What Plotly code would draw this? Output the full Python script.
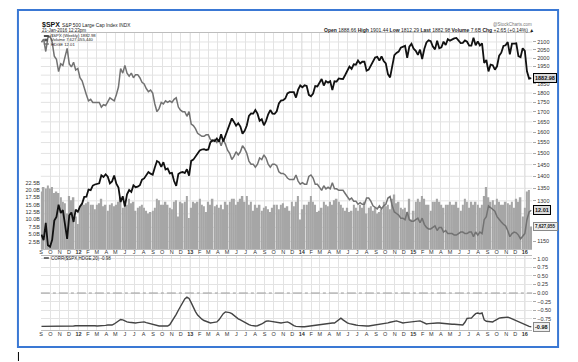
import plotly.graph_objects as go
import pandas as pd
import math

W, H = 578, 362

# ---------------- data ----------------
week_dates = pd.date_range("2011-09-02", "2016-01-22", freq="W-FRI")

spx_close = [
    # 2011
    1173.97, 1154.23, 1216.01, 1136.43, 1131.42, 1155.46, 1224.58, 1238.25, 1285.09, 1253.23,
    1263.85, 1215.65, 1158.67, 1244.28, 1255.19, 1219.66, 1265.33, 1257.60,
    # 2012
    1277.81, 1289.09, 1315.38, 1316.33, 1344.90, 1342.64, 1361.23, 1365.74, 1369.63, 1370.87,
    1404.17, 1397.11, 1408.47, 1398.08, 1370.26, 1378.53, 1403.36, 1369.10, 1353.39, 1295.22,
    1317.82, 1278.04, 1325.66, 1342.84, 1335.02, 1362.16, 1354.68, 1356.78, 1362.66, 1385.97,
    1390.99, 1405.87, 1418.16, 1411.13, 1406.58, 1437.92, 1465.77, 1460.15, 1440.67, 1460.93,
    1428.59, 1433.19, 1411.94, 1414.20, 1379.85, 1359.88, 1409.15, 1416.18, 1418.07, 1413.58,
    1430.15, 1402.43,
    # 2013
    1466.47, 1472.05, 1485.98, 1502.96, 1513.17, 1517.93, 1519.79, 1515.60, 1518.20, 1551.18,
    1560.70, 1556.89, 1569.19, 1553.28, 1588.85, 1555.25, 1582.24, 1614.42, 1633.70, 1667.47,
    1649.60, 1630.74, 1643.38, 1626.73, 1592.43, 1606.28, 1631.89, 1680.19, 1692.09, 1691.65,
    1709.67, 1691.42, 1655.83, 1663.50, 1632.97, 1655.17, 1687.99, 1709.91, 1691.75, 1690.50,
    1703.20, 1744.50, 1759.77, 1761.64, 1770.61, 1798.18, 1804.76, 1805.81, 1805.09, 1775.32,
    1818.32, 1841.40,
    # 2014
    1831.37, 1842.37, 1838.70, 1790.29, 1782.59, 1797.02, 1838.63, 1836.25, 1859.45, 1878.04,
    1841.13, 1866.52, 1857.62, 1865.09, 1815.69, 1864.85, 1863.40, 1881.14, 1878.48, 1877.86,
    1900.53, 1923.57, 1949.44, 1936.16, 1962.87, 1960.96, 1985.44, 1967.57, 1978.22, 1978.34,
    1925.15, 1931.59, 1955.06, 1988.40, 2003.37, 2007.71, 1985.54, 2010.40, 1982.85, 1967.90,
    1906.13, 1886.76, 1964.58, 2018.05, 2031.92, 2039.82, 2063.50, 2067.56, 2075.37, 2002.33,
    2070.65, 2088.77,
    # 2015
    2058.20, 2044.81, 2019.42, 2051.82, 1994.99, 2055.47, 2096.99, 2110.30, 2104.50, 2071.26,
    2053.40, 2108.10, 2061.02, 2066.96, 2102.06, 2081.18, 2117.69, 2108.29, 2116.10, 2122.73,
    2126.06, 2107.39, 2092.83, 2094.11, 2109.99, 2101.49, 2076.78, 2076.62, 2126.64, 2079.65,
    2103.84, 2077.57, 2091.54, 1970.89, 1988.87, 1921.22, 1961.05, 1958.03, 1931.34, 1951.36,
    2014.89, 2033.11, 2075.15, 2079.36, 2099.20, 2023.04, 2089.17, 2090.11, 2091.69, 2012.37,
    2005.55, 2060.99,
    # 2016
    2043.94, 1922.03, 1880.33, 1882.98,
]

hdge_close = [
    # 2011
    22.9, 23.1, 22.3, 23.2, 23.3, 22.9, 22.0, 21.8, 21.0, 21.5,
    21.4, 22.0, 22.5, 21.5, 21.3, 21.6, 21.1, 21.2,
    # 2012
    20.6, 20.4, 19.9, 19.5, 19.1, 19.2, 19.0, 19.0, 19.0, 19.0,
    18.7, 18.85, 18.8, 19.1, 19.3, 19.2, 19.1, 19.5, 20.0, 21.2,
    20.9, 21.4, 20.9, 20.7, 20.9, 20.6, 20.8, 20.8, 20.6, 20.3,
    20.2, 19.9, 19.7, 19.8, 19.6, 18.9, 18.4, 18.6, 19.0, 18.9,
    19.1, 19.0, 19.1, 19.0, 19.2, 19.3, 18.7, 18.5, 18.4, 18.4,
    18.1, 18.4,
    # 2013
    17.6, 17.5, 17.3, 17.0, 16.9, 16.8, 16.8, 16.9, 16.9, 16.6,
    16.5, 16.6, 16.4, 16.6, 16.2, 16.6, 16.3, 15.9, 15.7, 15.3,
    15.5, 15.8, 15.6, 15.8, 16.2, 16.0, 15.7, 15.2, 15.0, 15.0,
    14.8, 15.0, 15.4, 15.3, 15.6, 15.4, 15.0, 14.8, 15.0, 15.0,
    14.9, 14.5, 14.4, 14.4, 14.3, 14.1, 14.0, 14.0, 14.0, 14.3,
    13.9, 13.7,
    # 2014
    13.8, 13.7, 13.7, 14.2, 14.3, 14.1, 13.7, 13.7, 13.5, 13.3,
    13.6, 13.4, 13.5, 13.4, 13.8, 13.4, 13.4, 13.3, 13.3, 13.3,
    13.1, 12.9, 12.7, 12.8, 12.6, 12.6, 12.4, 12.5, 12.4, 12.4,
    12.8, 12.8, 12.6, 12.3, 12.2, 12.1, 12.3, 12.1, 12.3, 12.4,
    12.8, 12.9, 12.3, 11.9, 11.8, 11.7, 11.5, 11.5, 11.4, 11.9,
    11.4, 11.3,
    # 2015
    11.3, 11.4, 11.5, 11.2, 11.5, 11.1, 10.9, 10.8, 10.8, 10.9,
    11.0, 10.7, 10.9, 10.9, 10.6, 10.7, 10.5, 10.5, 10.5, 10.4,
    10.4, 10.5, 10.6, 10.6, 10.5, 10.5, 10.6, 10.6, 10.3, 10.6,
    10.4, 10.6, 10.5, 11.4, 11.6, 12.3, 12.2, 12.1, 11.95, 11.6,
    11.4, 11.25, 11.1, 11.0, 10.7, 10.3, 10.5, 10.6, 10.55, 10.4,
    10.15, 10.3,
    # 2016
    10.5, 11.4, 11.9, 12.01,
]

volume_b = [
    # 2011
    19.5, 21.0, 20.5, 21.5, 20.5, 21.0, 19.0, 19.5, 19.0, 17.5,
    16.0, 15.5, 12.0, 18.0, 16.5, 17.5, 11.0, 8.5,
    # 2012
    14.5, 15.5, 15.0, 15.5, 16.0, 15.0, 15.0, 13.5, 15.0, 15.5,
    17.0, 14.5, 15.0, 13.0, 15.0, 15.5, 14.5, 15.0, 16.0, 17.5,
    14.0, 16.0, 15.0, 17.0, 15.5, 16.0, 13.0, 14.0, 14.5, 15.0,
    14.0, 13.0, 12.0, 12.5, 13.0, 14.0, 17.0, 16.5, 15.0, 15.0,
    16.0, 15.0, 14.0, 13.5, 16.0, 16.5, 11.0, 16.0, 15.5, 16.0,
    18.0, 10.5,
    # 2013
    14.0, 16.0, 15.5, 16.0, 17.0, 15.0, 14.5, 12.5, 16.0, 15.0,
    17.0, 14.5, 15.0, 14.0, 15.0, 13.5, 16.0, 15.0, 16.0, 17.0,
    17.0, 15.0, 16.0, 17.0, 18.0, 16.0, 18.0, 15.0, 16.0, 13.0,
    15.0, 14.0, 15.0, 13.0, 14.0, 14.5, 13.5, 12.5, 14.0, 15.0,
    15.0, 13.5, 15.0, 15.5, 14.0, 14.5, 13.0, 16.0, 14.5, 16.0,
    18.0, 10.0,
    # 2014
    13.5, 15.0, 15.0, 16.0, 18.0, 16.0, 15.0, 12.5, 13.0, 14.0,
    16.0, 15.0, 14.5, 16.0, 15.0, 16.5, 17.0, 16.0, 15.0, 14.0,
    13.0, 14.0, 12.5, 13.0, 15.0, 14.0, 13.0, 15.0, 14.0, 16.0,
    12.0, 14.0, 14.5, 13.0, 14.0, 12.0, 12.5, 13.5, 16.0, 14.5,
    15.0, 13.5, 17.0, 18.5, 15.5, 16.0, 14.0, 13.5, 14.0, 12.5,
    17.0, 10.0,
    # 2015
    13.0, 16.0, 17.0, 16.0, 18.0, 17.0, 15.0, 15.0, 13.0, 16.0,
    16.0, 17.0, 16.0, 15.0, 14.0, 15.0, 15.0, 16.0, 15.0, 15.0,
    16.0, 14.0, 13.0, 15.0, 17.0, 16.0, 14.0, 16.0, 15.0, 16.0,
    15.0, 14.0, 15.0, 18.0, 21.0, 17.5, 16.0, 16.5, 15.0, 17.0,
    16.0, 15.0, 15.0, 16.0, 15.5, 15.0, 16.0, 14.0, 17.0, 16.0,
    17.5, 11.0,
    # 2016
    14.0, 19.5, 20.0, 7.627,
]

corr_20 = [
    -0.97, -0.97, -0.98, -0.98, -0.98, -0.98, -0.98, -0.98, -0.98, -0.98,
    -0.97, -0.97, -0.96, -0.96, -0.96, -0.96, -0.95, -0.95,
    -0.95, -0.95, -0.94, -0.93, -0.93, -0.94, -0.95, -0.95, -0.96, -0.96,
    -0.96, -0.95, -0.94, -0.93, -0.93, -0.93, -0.90, -0.86, -0.81,
    -0.77, -0.78, -0.82, -0.84, -0.85, -0.86, -0.87, -0.87, -0.86,
    -0.85, -0.84, -0.84, -0.86, -0.88, -0.90, -0.92, -0.94, -0.95,
    -0.96, -0.96, -0.96, -0.96, -0.96, -0.92, -0.83,
    -0.73, -0.62, -0.50, -0.38, -0.27, -0.17, -0.12, -0.16,
    -0.28, -0.42, -0.54, -0.64, -0.71, -0.76, -0.80, -0.83, -0.86, -0.87,
    -0.86, -0.85, -0.84, -0.78, -0.68, -0.60, -0.55, -0.55, -0.57, -0.60,
    -0.66, -0.71, -0.75, -0.78, -0.82, -0.86, -0.89, -0.92, -0.94, -0.96,
    -0.96, -0.95, -0.93, -0.90, -0.86, -0.82, -0.81, -0.82, -0.84, -0.85,
    -0.86, -0.87, -0.87, -0.86, -0.85, -0.84, -0.87, -0.92, -0.95, -0.97,
    -0.98, -0.99, -0.98, -0.98, -0.97, -0.96, -0.96, -0.95, -0.95, -0.94,
    -0.93, -0.92, -0.91, -0.90, -0.88, -0.87, -0.87, -0.87, -0.83, -0.77,
    -0.73, -0.78, -0.84, -0.87, -0.89, -0.91, -0.92, -0.93, -0.94, -0.95,
    -0.95, -0.96, -0.96, -0.96, -0.95, -0.95, -0.94, -0.94, -0.93, -0.92,
    -0.90, -0.88, -0.87, -0.85, -0.83, -0.81, -0.81, -0.83, -0.85, -0.87,
    -0.86, -0.85, -0.84, -0.84, -0.84, -0.83, -0.82, -0.81, -0.84, -0.88,
    -0.90, -0.89, -0.88, -0.87, -0.87, -0.87, -0.87, -0.88, -0.89, -0.89,
    -0.90, -0.90, -0.91, -0.91, -0.92, -0.92, -0.93, -0.93, -0.85, -0.74,
    -0.73, -0.73, -0.66, -0.60, -0.58, -0.60, -0.58, -0.78, -0.82, -0.83,
    -0.84, -0.84, -0.80, -0.76, -0.73, -0.72, -0.71, -0.70, -0.70, -0.72,
    -0.75, -0.78, -0.81, -0.84, -0.87, -0.90, -0.93, -0.95, -0.97, -0.98,
]

# tick labels (1200, 1250 and 1900 sit under the last-value boxes in the original)
price_ticks = [1150, 1300, 1350, 1400, 1450, 1500, 1550, 1600, 1650, 1700, 1750, 1800,
               1850, 1950, 2000, 2050, 2100]
price_grid = list(range(1150, 2101, 50))
volume_ticks = [2.5, 5.0, 7.5, 10.0, 12.5, 15.0, 17.5, 20.0, 22.5]
volume_tick_text = ["2.5B", "5.0B", "7.5B", "10.0B", "12.5B", "15.0B", "17.5B", "20.0B", "22.5B"]
corr_ticks = [1.0, 0.75, 0.5, 0.25, 0.0, -0.25, -0.5, -0.75]
month_starts = pd.date_range("2011-09-01", "2016-01-01", freq="MS")
month_letters = {1: "J", 2: "F", 3: "M", 4: "A", 5: "M", 6: "J", 7: "J", 8: "A",
                 9: "S", 10: "O", 11: "N", 12: "D"}
month_text = [("<b>%02d</b>" % (d.year % 100)) if d.month == 1 else month_letters[d.month]
              for d in month_starts]

assert len(week_dates) == len(spx_close) == len(hdge_close) == len(volume_b) == len(corr_20), (
    len(week_dates), len(spx_close), len(hdge_close), len(volume_b), len(corr_20))

# ---------------- geometry helpers (pixel -> paper) ----------------
def px(x):
    return x / W


def py(y):
    return 1 - y / H


FONT = "Liberation Sans, Arial, sans-serif"
GRID = "#e3e3e3"
X0, X1 = 39, 532
MAIN_T, MAIN_B = 33, 249
LOW_T, LOW_B = 256, 330

fig = go.Figure()

fig.add_trace(go.Bar(x=week_dates, y=volume_b, marker=dict(color="#a6a6a6", line=dict(width=0)),
                     xaxis="x", yaxis="y", name="Volume"))
fig.add_trace(go.Scatter(x=week_dates, y=hdge_close, mode="lines",
                         line=dict(color="#727272", width=1.5), xaxis="x", yaxis="y2", name="HDGE"))
fig.add_trace(go.Scatter(x=week_dates, y=spx_close, mode="lines",
                         line=dict(color="#111111", width=1.8), xaxis="x", yaxis="y3", name="$SPX"))
fig.add_trace(go.Scatter(x=week_dates, y=corr_20, mode="lines",
                         line=dict(color="#444444", width=1.4), xaxis="x2", yaxis="y4", name="CORR"))

xr = ["2011-08-31", "2016-01-25"]
axis_font = dict(family=FONT, size=5.5, color="#333333")

fig.update_layout(
    width=W, height=H, margin=dict(l=0, r=0, t=0, b=0),
    paper_bgcolor="white", plot_bgcolor="white", showlegend=False, bargap=0.25,
    xaxis=dict(domain=[px(X0), px(X1)], range=xr, anchor="y", tickvals=month_starts,
               ticktext=month_text, tickfont=axis_font, showgrid=True, gridcolor=GRID,
               gridwidth=1, ticks="", showline=True, linecolor="#bdbdbd", mirror=True,
               zeroline=False, ticklabelstandoff=-3),
    yaxis=dict(domain=[py(MAIN_B), py(MAIN_T)], range=[0, 73.2], side="left",
               tickvals=volume_ticks, ticktext=volume_tick_text, tickfont=axis_font,
               showgrid=False, zeroline=False, ticks=""),
    yaxis2=dict(domain=[py(MAIN_B), py(MAIN_T)], overlaying="y", range=[9.5, 23.5],
                visible=False),
    yaxis3=dict(domain=[py(MAIN_B), py(MAIN_T)], overlaying="y", side="right", type="log",
                range=[math.log10(1124.0), math.log10(2157.7)], tickvals=price_ticks,
                tickfont=axis_font, showgrid=False, ticks="outside",
                ticklen=3, tickcolor="#aaaaaa", zeroline=False),
    xaxis2=dict(domain=[px(X0), px(X1)], range=xr, anchor="y4", tickvals=month_starts,
                ticktext=month_text, tickfont=axis_font, showgrid=True, gridcolor=GRID,
                ticks="", showline=True, linecolor="#bdbdbd", mirror=True, zeroline=False,
                ticklabelstandoff=-2),
    yaxis4=dict(domain=[py(LOW_B), py(LOW_T)], anchor="x2", side="right", range=[-1.075, 1.075],
                tickvals=corr_ticks, tickformat=".2f", tickfont=axis_font, showgrid=True,
                gridcolor=GRID, ticks="outside", ticklen=3, tickcolor="#aaaaaa", zeroline=False),
)

shapes = []
# horizontal price gridlines (every 50 points)
for p in price_grid:
    shapes.append(dict(type="line", xref="paper", yref="y3", x0=px(X0), x1=px(X1), y0=p, y1=p,
                       line=dict(color=GRID, width=1), layer="below"))
# year gridlines slightly darker
for d in month_starts:
    if d.month == 1:
        shapes.append(dict(type="line", xref="x", yref="paper", x0=d, x1=d,
                           y0=py(MAIN_B), y1=py(MAIN_T),
                           line=dict(color="#cccccc", width=1), layer="below"))
        shapes.append(dict(type="line", xref="x2", yref="paper", x0=d, x1=d,
                           y0=py(LOW_B), y1=py(LOW_T),
                           line=dict(color="#cccccc", width=1), layer="below"))
# zero line in correlation panel
shapes.append(dict(type="line", xref="paper", yref="y4", x0=px(X0), x1=px(X1), y0=0, y1=0,
                   line=dict(color="#9a9a9a", width=1, dash="dashdot")))
# outer blue frame
shapes.append(dict(type="rect", xref="paper", yref="paper", x0=px(16), x1=px(558),
                   y0=py(347), y1=py(10), line=dict(color="#3a78d4", width=2)))
# legend swatches
shapes.append(dict(type="line", xref="paper", yref="paper", x0=px(42), x1=px(47),
                   y0=py(36), y1=py(36), line=dict(color="#111111", width=1.5)))
shapes.append(dict(type="rect", xref="paper", yref="paper", x0=px(42.5), x1=px(46),
                   y0=py(41.3), y1=py(38.7), fillcolor="#555555", line=dict(width=0)))
shapes.append(dict(type="line", xref="paper", yref="paper", x0=px(42), x1=px(47),
                   y0=py(44), y1=py(44), line=dict(color="#727272", width=1.5)))
shapes.append(dict(type="line", xref="paper", yref="paper", x0=px(42), x1=px(47),
                   y0=py(258), y1=py(258), line=dict(color="#444444", width=1.5)))
# text cursor mark below the frame
shapes.append(dict(type="line", xref="paper", yref="paper", x0=px(16.5), x1=px(16.5),
                   y0=py(361), y1=py(352), line=dict(color="#000000", width=1)))
fig.update_layout(shapes=shapes)

ann = []


def text(x, y, s, size=5, color="#222222", anchor="left", **kw):
    ann.append(dict(x=px(x), y=py(y), xref="paper", yref="paper", text=s, showarrow=False,
                    xanchor=anchor, yanchor="middle", font=dict(family=FONT, size=size, color=color),
                    borderpad=0, **kw))


text(39.5, 25, "<b>$SPX</b>", size=7, color="#111111")
text(59, 25.3, "S&P 500 Large Cap Index INDX", size=4.8)
text(39.5, 30, "21-Jan-2016 12:23pm", size=4.5)
text(48, 36, "$SPX (Weekly) 1882.98", size=4.2)
text(48, 40, "Volume 7,627,055,440", size=4.2)
text(48, 44, "HDGE 12.01", size=4.2)
text(48, 258, "CORR($SPX,HDGE,20) -0.98", size=4.5)
text(533, 24.5, "@StockCharts.com", size=4.5, color="#777777", anchor="right")
text(535, 30.5, "<b>Open</b> 1888.66 <b>High</b> 1901.44 <b>Low</b> 1812.29 <b>Last</b> 1882.98 "
     "<b>Volume</b> 7.6B <b>Chg</b> +2.65 (+0.14%) \u25b2", size=5, anchor="right")


def box(yval, yref, s, border="#000000", bg="#dcdcdc", size=5.5):
    ann.append(dict(x=px(533), y=yval, xref="paper", yref=yref, text="<b>%s</b>" % s,
                    showarrow=False, xanchor="left", yanchor="middle",
                    font=dict(family=FONT, size=size, color="#111111"), bgcolor=bg,
                    bordercolor=border, borderwidth=1, borderpad=1))


box(math.log10(spx_close[-1]), "y3", "1882.98")
box(hdge_close[-1], "y2", "12.01")
box(volume_b[-1], "y", "7,627,055", border="#888888", bg="#eeeeee", size=4.5)
box(corr_20[-1], "y4", "-0.98", border="#888888", bg="#eeeeee")

fig.update_layout(annotations=ann)
fig.write_html("out.html", post_script="document.body.style.margin='0';",
               config={"displayModeBar": False})
